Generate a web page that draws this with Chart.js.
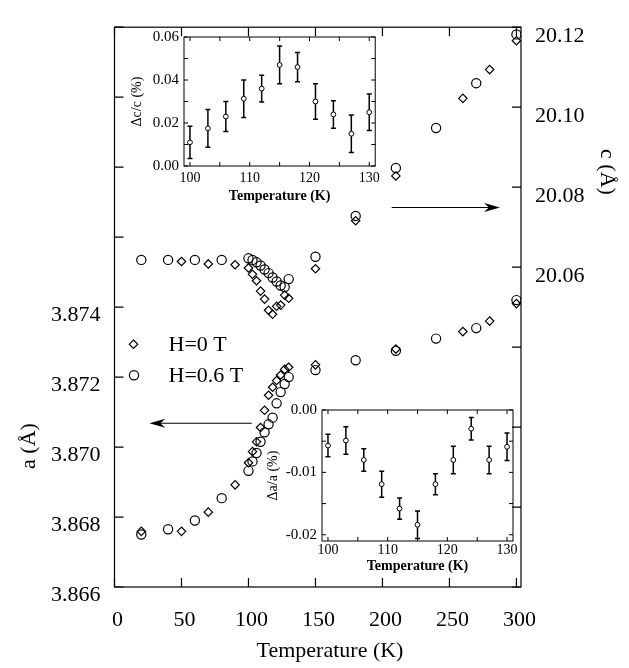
<!DOCTYPE html>
<html>
<head>
<meta charset="utf-8">
<script src="https://cdn.jsdelivr.net/npm/chart.js@4.4.1/dist/chart.umd.min.js"></script>
<style>
  html, body { margin: 0; padding: 0; background: #fff; }
  #wrap { position: relative; width: 629px; height: 668px; }
  canvas { position: absolute; }
</style>
</head>
<body>
<div id="wrap">
  <canvas id="main" width="629" height="668" style="left:0;top:0"></canvas>
  <canvas id="insetC"></canvas>
  <canvas id="insetA"></canvas>
</div>
<script>
// main panel: lattice parameters a and c (Angstrom) vs temperature (K)
const tempH0 = [20, 50, 70, 90, 100, 103, 106, 109, 112, 115, 118, 121, 124, 127, 130, 150, 180, 210, 260, 280, 300];
const aH0 = [3.86759, 3.86759, 3.86814, 3.86892, 3.86955, 3.86987, 3.87015, 3.87056, 3.87105, 3.87148, 3.87171, 3.8719, 3.87206, 3.87222, 3.87228, 3.87235, null, 3.8728, 3.8733, 3.8736, 3.8741];
const cH0 = [null, 20.0614, 20.0608, 20.0606, 20.0598, 20.0582, 20.0566, 20.0540, 20.0520, 20.0492, 20.0482, 20.0502, 20.0505, 20.0530, 20.0522, 20.0596, 20.0716, 20.0828, 20.1022, 20.1094, 20.1166];

const tempH06 = [20, 40, 60, 80, 100, 103, 106, 109, 112, 115, 118, 121, 124, 127, 130, 150, 180, 210, 240, 270, 300];
const aH06 = [3.8675, 3.86765, 3.8679, 3.86854, 3.86932, 3.86959, 3.86983, 3.87015, 3.87042, 3.87065, 3.87084, 3.87125, 3.87157, 3.8718, 3.872, 3.8722, 3.87248, 3.87275, 3.8731, 3.8734, 3.8742];
const cH06 = [20.0618, 20.0618, 20.0618, 20.0618, 20.0622, 20.0618, 20.0612, 20.0604, 20.0594, 20.0585, 20.0574, 20.0564, 20.0554, 20.0550, 20.0570, 20.0626, 20.0728, 20.0848, 20.0948, 20.1060, 20.1182];

// insets: relative changes (%) with error bars
const insetTemp = [100, 103, 106, 109, 112, 115, 118, 121, 124, 127, 130];
const dcc = [0.011, 0.0175, 0.023, 0.0313, 0.036, 0.047, 0.046, 0.030, 0.024, 0.015, 0.025];
const dccErr = [0.0075, 0.0088, 0.007, 0.0087, 0.0062, 0.0088, 0.0068, 0.0083, 0.0064, 0.0087, 0.0085];
const daa = [-0.0057, -0.0049, -0.008, -0.0119, -0.0158, -0.0184, -0.0119, -0.008, -0.003, -0.008, -0.0059];
const daaErr = [0.0018, 0.0022, 0.0018, 0.0021, 0.0017, 0.0022, 0.0017, 0.0022, 0.0018, 0.0022, 0.0022];

// tick labels
const tempTicks = ['0', '50', '100', '150', '200', '250', '300'];
const aTicks = ['3.866', '3.868', '3.870', '3.872', '3.874'];
const cTicks = ['20.06', '20.08', '20.10', '20.12'];
const insetTempTicks = ['100', '110', '120', '130'];
const dccTicks = ['0.00', '0.02', '0.04', '0.06'];
const daaTicks = ['0.00', '-0.01', '-0.02'];

// arrows pointing to the axis each branch belongs to
const arrows = [
  { axis: 'ya', from: 102.4, to: 26, at: 3.87068 },
  { axis: 'yc', from: 206.9, to: 287.7, at: 20.0749 }
];

const serif = '"Liberation Serif", "DejaVu Serif", serif';

function pairs(xs, ys) {
  return xs.map((x, i) => ({ x: x, y: ys[i] })).filter(p => p.y !== null);
}

function tickText(value, list) {
  const hit = list.find(s => Math.abs(parseFloat(s) - value) < 1e-9);
  return hit === undefined ? '' : hit;
}

// frame around the plot area with inward tick marks
const frameTicks = {
  id: 'frameTicks',
  afterDraw(chart, args, opts) {
    const ctx = chart.ctx, area = chart.chartArea;
    const len = opts.length;
    ctx.save();
    ctx.strokeStyle = '#000';
    ctx.lineWidth = opts.lineWidth;
    ctx.strokeRect(area.left, area.top, area.right - area.left, area.bottom - area.top);
    ctx.beginPath();
    Object.values(chart.scales).forEach(scale => {
      const mirror = opts.mirror.includes(scale.id);
      scale.ticks.forEach(t => {
        const p = scale.getPixelForValue(t.value);
        if (scale.isHorizontal()) {
          ctx.moveTo(p, area.bottom); ctx.lineTo(p, area.bottom - len);
          if (mirror) { ctx.moveTo(p, area.top); ctx.lineTo(p, area.top + len); }
        } else if (scale.position === 'left') {
          ctx.moveTo(area.left, p); ctx.lineTo(area.left + len, p);
          if (mirror) { ctx.moveTo(area.right, p); ctx.lineTo(area.right - len, p); }
        } else {
          ctx.moveTo(area.right, p); ctx.lineTo(area.right - len, p);
        }
      });
    });
    ctx.stroke();
    ctx.restore();
  }
};

const errorBars = {
  id: 'errorBars',
  beforeDatasetsDraw(chart, args, opts) {
    if (!opts || !opts.err) return;
    const ctx = chart.ctx;
    const ys = chart.scales.y;
    const meta = chart.getDatasetMeta(0);
    const data = chart.data.datasets[0].data;
    ctx.save();
    ctx.strokeStyle = '#000';
    ctx.lineWidth = 1.5;
    ctx.beginPath();
    meta.data.forEach((pt, i) => {
      const top = ys.getPixelForValue(data[i].y + opts.err[i]);
      const bot = ys.getPixelForValue(data[i].y - opts.err[i]);
      ctx.moveTo(pt.x, top); ctx.lineTo(pt.x, bot);
      ctx.moveTo(pt.x - 2.5, top); ctx.lineTo(pt.x + 2.5, top);
      ctx.moveTo(pt.x - 2.5, bot); ctx.lineTo(pt.x + 2.5, bot);
    });
    ctx.stroke();
    ctx.restore();
  }
};

function drawArrow(ctx, x0, x1, y) {
  const dir = x1 > x0 ? 1 : -1;
  ctx.beginPath();
  ctx.moveTo(x0, y); ctx.lineTo(x1 - dir * 10, y);
  ctx.stroke();
  ctx.beginPath();
  ctx.moveTo(x1, y);
  ctx.lineTo(x1 - dir * 16, y - 4.5);
  ctx.lineTo(x1 - dir * 11, y);
  ctx.lineTo(x1 - dir * 16, y + 4.5);
  ctx.closePath();
  ctx.fill();
}

// legend, arrows and axis titles of the main panel
const annotations = {
  id: 'annotations',
  afterDraw(chart) {
    const ctx = chart.ctx, s = chart.scales, area = chart.chartArea;
    ctx.save();
    ctx.strokeStyle = '#000';
    ctx.fillStyle = '#000';
    ctx.lineWidth = 1.1;
    arrows.forEach(a => {
      const y = s[a.axis].getPixelForValue(a.at);
      drawArrow(ctx, s.x.getPixelForValue(a.from), s.x.getPixelForValue(a.to), y);
    });

    // legend
    const lx = area.left + 19, ly1 = area.top + 317, ly2 = area.top + 348;
    ctx.lineWidth = 1.2;
    ctx.beginPath();
    ctx.moveTo(lx, ly1 - 4.2); ctx.lineTo(lx + 4.2, ly1); ctx.lineTo(lx, ly1 + 4.2); ctx.lineTo(lx - 4.2, ly1);
    ctx.closePath(); ctx.stroke();
    ctx.beginPath();
    ctx.arc(lx + 0.5, ly2, 4.6, 0, Math.PI * 2); ctx.stroke();
    ctx.font = '22px ' + serif;
    ctx.textAlign = 'left';
    ctx.textBaseline = 'middle';
    ctx.fillText('H=0 T', area.left + 54, ly1 + 1);
    ctx.fillText('H=0.6 T', area.left + 54, ly2 + 1);

    // axis titles
    ctx.textAlign = 'center';
    ctx.fillText('Temperature (K)', 330, 651);
    ctx.save();
    ctx.translate(29, 446);
    ctx.rotate(-Math.PI / 2);
    ctx.fillText('a (Å)', 0, 0);
    ctx.restore();
    ctx.save();
    ctx.translate(607, 172);
    ctx.rotate(Math.PI / 2);
    ctx.fillText('c (Å)', 0, 0);
    ctx.restore();
    ctx.restore();
  }
};

const bigFont = { family: serif, size: 22 };

new Chart(document.getElementById('main'), {
  type: 'scatter',
  data: {
    datasets: [
      { data: pairs(tempH0, aH0), yAxisID: 'ya', pointStyle: 'rectRot', pointRadius: 4.2 },
      { data: pairs(tempH06, aH06), yAxisID: 'ya', pointStyle: 'circle', pointRadius: 4.6 },
      { data: pairs(tempH0, cH0), yAxisID: 'yc', pointStyle: 'rectRot', pointRadius: 4.2 },
      { data: pairs(tempH06, cH06), yAxisID: 'yc', pointStyle: 'circle', pointRadius: 4.6 }
    ]
  },
  options: {
    responsive: false,
    animation: false,
    layout: { padding: { top: 7, left: 0, right: 0, bottom: 0 } },
    elements: { point: { borderColor: '#000', borderWidth: 1.2, backgroundColor: 'rgba(0,0,0,0)' } },
    plugins: {
      legend: { display: false },
      tooltip: { enabled: false },
      frameTicks: { length: 9, lineWidth: 1.2, mirror: ['x'] }
    },
    scales: {
      x: {
        type: 'linear', position: 'bottom', min: 0, max: 303.4,
        grid: { display: false, drawTicks: false }, border: { display: false },
        ticks: { stepSize: 50, includeBounds: false, padding: 20, labelOffset: 3, color: '#000', font: bigFont, maxRotation: 0,
                 callback: v => tickText(v, tempTicks) },
        afterFit: sc => { sc.height = 81; }
      },
      ya: {
        type: 'linear', position: 'left', min: 3.866, max: 3.882,
        grid: { display: false, drawTicks: false }, border: { display: false },
        ticks: { stepSize: 0.002, includeBounds: false, padding: 14, labelOffset: 8, color: '#000', font: bigFont,
                 callback: v => tickText(v, aTicks) },
        afterFit: sc => { sc.width = 114.5; }
      },
      yc: {
        type: 'linear', position: 'right', min: 19.98, max: 20.12,
        grid: { display: false, drawTicks: false }, border: { display: false },
        ticks: { stepSize: 0.02, includeBounds: false, padding: 14, labelOffset: 9, color: '#000', font: bigFont,
                 callback: v => tickText(v, cTicks) },
        afterFit: sc => { sc.width = 108; }
      }
    }
  },
  plugins: [frameTicks, annotations]
});

// inset charts
function makeInset(id, box, values, errors, yMin, yMax, yStep, yTicks, yTitle, titlePad, labelPad) {
  const cv = document.getElementById(id);
  cv.width = box.w; cv.height = box.h;
  cv.style.left = box.left + 'px';
  cv.style.top = box.top + 'px';
  const smallFont = { family: serif, size: 14 };
  return new Chart(cv, {
    type: 'scatter',
    data: { datasets: [{ data: pairs(insetTemp, values), pointStyle: 'circle', pointRadius: 2.4,
                         borderColor: '#000', borderWidth: 1, backgroundColor: '#fff' }] },
    options: {
      responsive: false,
      animation: false,
      layout: { padding: { top: box.padT, right: box.padR, left: 0, bottom: 0 } },
      plugins: {
        legend: { display: false },
        tooltip: { enabled: false },
        frameTicks: { length: 4, lineWidth: 1, mirror: ['x', 'y'] },
        errorBars: { err: errors }
      },
      scales: {
        x: {
          type: 'linear', min: 99, max: 131,
          grid: { display: false, drawTicks: false }, border: { display: false },
          ticks: { stepSize: 5, includeBounds: false, padding: labelPad, color: '#000', font: smallFont, maxRotation: 0,
                   callback: v => tickText(v, insetTempTicks) },
          title: { display: true, text: 'Temperature (K)', color: '#000', font: { family: serif, size: 14, weight: 'bold' },
                   padding: { top: 0, bottom: titlePad.x } },
          afterFit: sc => { sc.height = box.xH; }
        },
        y: {
          type: 'linear', min: yMin, max: yMax,
          grid: { display: false, drawTicks: false }, border: { display: false },
          ticks: { stepSize: yStep, includeBounds: false, padding: 5, color: '#000', font: { family: serif, size: 15 },
                   callback: v => tickText(v, yTicks) },
          title: { display: true, text: yTitle, color: '#000', font: { family: serif, size: 14 },
                   padding: { top: titlePad.y, bottom: 0 } },
          afterFit: sc => { sc.width = box.yW; }
        }
      }
    },
    plugins: [frameTicks, errorBars]
  });
}

makeInset('insetC', { left: 124, top: 23, w: 260, h: 185, yW: 60, xH: 42, padT: 8, padR: 8 },
  dcc, dccErr, 0, 0.06, 0.01, dccTicks, 'Δc/c (%)', { x: 3.6, y: 4.6 }, 4);
makeInset('insetA', { left: 262, top: 396, w: 259, h: 181, yW: 60, xH: 36, padT: 8, padR: 8 },
  daa, daaErr, -0.021, 0, 0.005, daaTicks, 'Δa/a (%)', { x: 2.6, y: 2.6 }, 1);
</script>
</body>
</html>
